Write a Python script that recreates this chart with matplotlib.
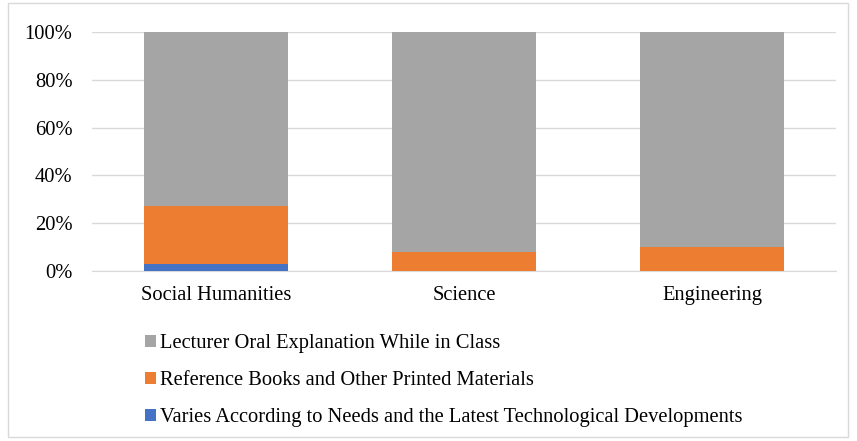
import numpy as np
import matplotlib.pyplot as plt
from matplotlib.patches import Rectangle

plt.rcParams['font.family'] = ['Liberation Serif', 'DejaVu Serif']

fakultas = ['Social Humanities', 'Science', 'Engineering']
seri = ['Lecturer Oral Explanation While in Class',
        'Reference Books and Other Printed Materials',
        'Varies According to Needs and the Latest Technological Developments']
varies = [3, 0, 0]
buku = [24, 8, 10]
lisan = [73, 92, 90]
warna = ['#a5a5a5', '#ed7d31', '#4472c4']

fig = plt.figure(figsize=(8.57, 4.41), dpi=100)
ax = fig.add_axes([92 / 857, 1 - 271 / 441, 744 / 857, 239 / 441])

x = np.arange(len(fakultas))
lebar = 0.58
b_var = ax.bar(x, varies, lebar, color=warna[2], label=seri[2], zorder=3)
b_buku = ax.bar(x, buku, lebar, bottom=varies, color=warna[1], label=seri[1], zorder=3)
dasar = np.array(varies) + np.array(buku)
b_lisan = ax.bar(x, lisan, lebar, bottom=dasar, color=warna[0], label=seri[0], zorder=3)

ax.set_xlim(-0.5, 2.5)
ax.set_ylim(0, 100)
ax.set_yticks(range(0, 101, 20))
ax.set_yticklabels([f'{v}%' for v in range(0, 101, 20)])
ax.set_xticks(x)
ax.set_xticklabels(fakultas)
ax.tick_params(axis='both', length=0, labelsize=14.8, colors='#000000')
ax.tick_params(axis='y', pad=14)
ax.tick_params(axis='x', pad=11)
ax.yaxis.grid(True, color='#d9d9d9', linewidth=1, zorder=0)
for s in ['top', 'right', 'left']:
    ax.spines[s].set_visible(False)
ax.spines['bottom'].set_color('#d9d9d9')

leg = fig.legend(handles=[b_lisan, b_buku, b_var], labels=[seri[0], seri[1], seri[2]],
                 loc='upper left', bbox_to_anchor=(137 / 857, 1 - 326 / 441),
                 frameon=False, fontsize=14.8, handlelength=0.5, handleheight=0.5,
                 handletextpad=0.2, labelspacing=0.87, borderaxespad=0)

fig.patches.append(Rectangle((8 / 857, 4 / 441), 840 / 857, 434 / 441,
                             transform=fig.transFigure, fill=False,
                             edgecolor='#d9d9d9', linewidth=1))

fig.savefig('out.png', dpi=100)
